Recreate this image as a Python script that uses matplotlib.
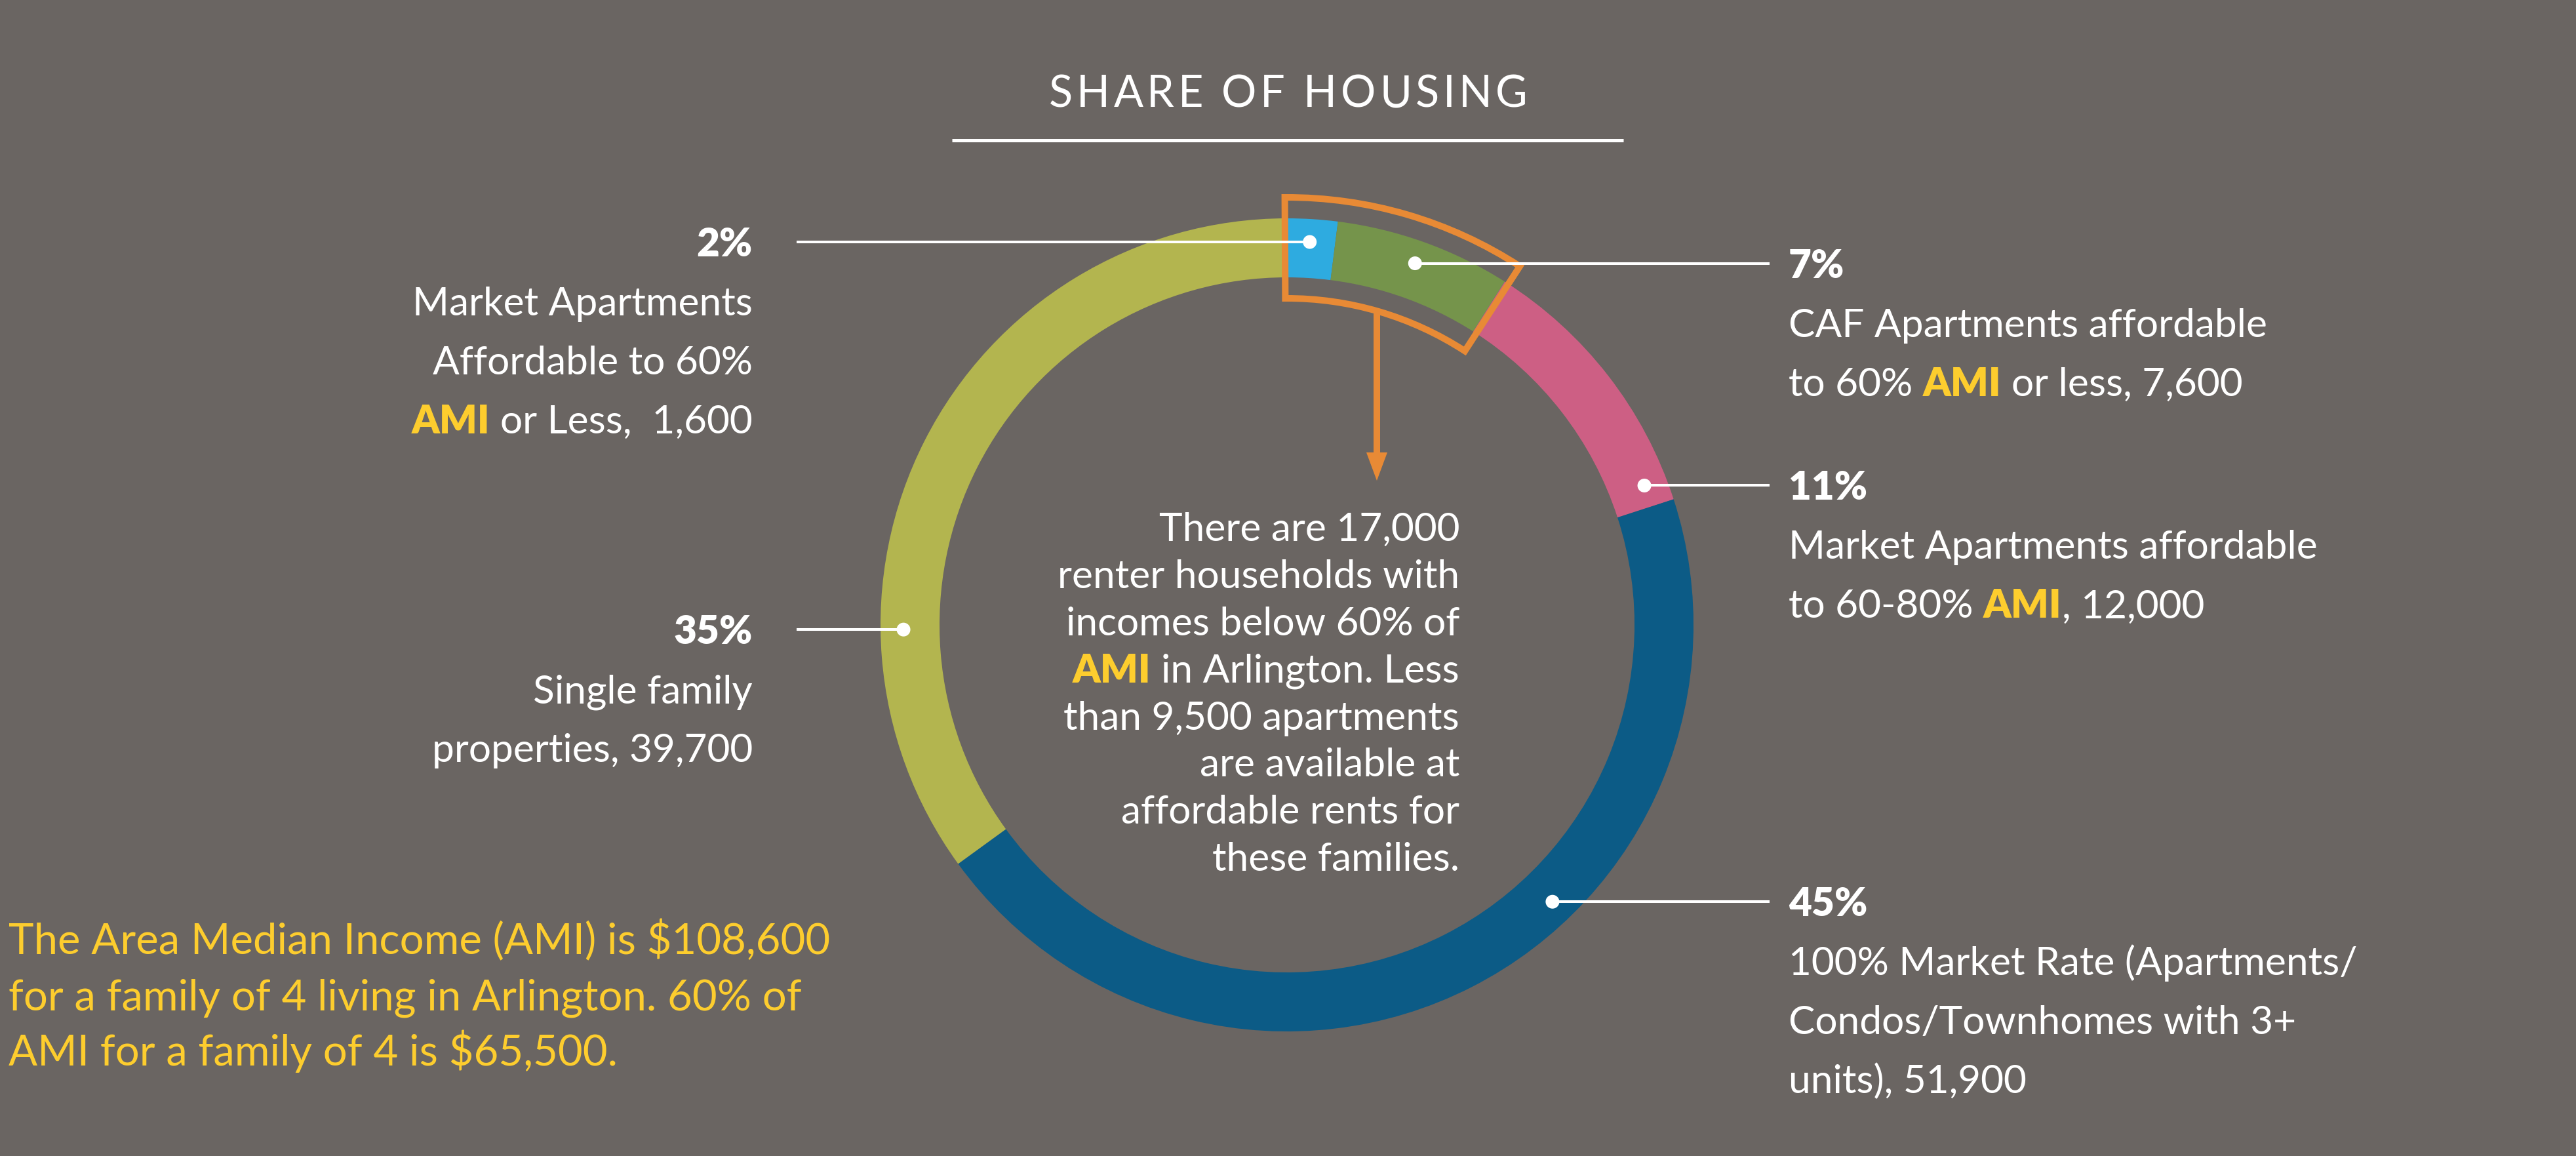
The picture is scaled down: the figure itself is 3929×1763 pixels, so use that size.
import numpy as np
import matplotlib
matplotlib.use("Agg")
import matplotlib.pyplot as plt
from matplotlib.patches import Wedge, FancyArrow, Circle

plt.rcParams["font.family"] = ["Lato", "DejaVu Sans"]

W, H = 3929, 1763
BG = "#6a6562"
WHITE = "#ffffff"
YELLOW = "#fdcd2e"
ORANGE = "#e88a35"

# Housing stock shares, clockwise from 12 o'clock
categories = [
    "Market Apartments Affordable to 60% AMI or Less",
    "CAF Apartments affordable to 60% AMI or less",
    "Market Apartments affordable to 60-80% AMI",
    "100% Market Rate (Apartments/Condos/Townhomes with 3+ units)",
    "Single family properties",
]
shares = [2, 7, 11, 45, 35]
units = [1600, 7600, 12000, 51900, 39700]
colors = ["#2eabe0", "#75944b", "#cd5f84", "#0c5b86", "#b3b54f"]

# label body lines ("**" marks the highlighted AMI term); the unit count is appended
label_text = [
    ["Market Apartments", "Affordable to 60%", "**AMI** or Less,  {}"],
    ["CAF Apartments affordable", "to 60% **AMI** or less, {}"],
    ["Market Apartments affordable", "to 60-80% **AMI**, {}"],
    ["100% Market Rate (Apartments/", "Condos/Townhomes with 3+", "units), {}"],
    ["Single family", "properties, {}"],
]
# where each leader dot sits on the ring (degrees clockwise from top)
dot_angle = [3.4, 19.5, 68.7, 136.2, 269.3]
label_side = ["left", "right", "right", "right", "left"]

center_note = [
    "There are 17,000",
    "renter households with",
    "incomes below 60% of",
    "**AMI** in Arlington. Less",
    "than 9,500 apartments",
    "are available at",
    "affordable rents for",
    "these families.",
]
ami_note = [
    "The Area Median Income (AMI) is $108,600",
    "for a family of 4 living in Arlington. 60% of",
    "AMI for a family of 4 is $65,500.",
]
title = "SHARE OF HOUSING"

fig = plt.figure(figsize=(W / 100, H / 100), dpi=100, facecolor=BG)
ax = fig.add_axes([0, 0, 1, 1])
ax.set_facecolor(BG)
R = fig.canvas.get_renderer()


def Y(y):
    return H - y


# ring
cx, cy = 1963, Y(953)
r_out, ring_w = 620, 90
ax.pie(shares, colors=colors, startangle=90, counterclock=False,
       radius=r_out, center=(cx, cy),
       wedgeprops=dict(width=ring_w, linewidth=0))
ax.set_aspect("auto")
ax.set_xlim(0, W)
ax.set_ylim(0, H)
ax.axis("off")

# highlight frame around the two affordable segments
hl_end = (shares[0] + shares[1]) / sum(shares) * 360 + 0.6
hl_r_out, hl_r_in = 652, 498
ax.add_patch(Wedge((cx, cy), hl_r_out, 90 - hl_end, 90.3, width=hl_r_out - hl_r_in,
                   fill=False, ec=ORANGE, lw=7.2, joinstyle="miter"))
ax_x = 2100
y_start = cy + np.sqrt(hl_r_in ** 2 - (ax_x - cx) ** 2)
y_tip = Y(733)
ax.add_patch(FancyArrow(ax_x, y_start, 0, y_tip - y_start, width=10,
                        head_width=32, head_length=43, length_includes_head=True,
                        color=ORANGE, lw=0))


def text_w(s, **kw):
    t = ax.text(0, 0, s, **kw)
    w = t.get_window_extent(R).width
    t.remove()
    return w


def space_w(size, weight="normal"):
    return text_w("a a", fontsize=size, fontweight=weight) - text_w("aa", fontsize=size, fontweight=weight)


def rich_line(x, y, line, size, color=WHITE, ha="left", weight="normal"):
    parts = line.split("**")
    sp = space_w(size)
    items = []
    pending = 0
    for i, p in enumerate(parts):
        if p == "":
            continue
        lead = len(p) - len(p.lstrip(" "))
        trail = len(p) - len(p.rstrip(" "))
        core = p.strip(" ")
        hl = i % 2 == 1
        st = dict(fontsize=size, fontweight="heavy" if hl else weight,
                  color=YELLOW if hl else color)
        gap = (pending + lead) * sp
        items.append((core, st, gap, text_w(core, **st)))
        pending = trail
    total = sum(g + w for _, _, g, w in items) - (items[0][2] if items else 0)
    xx = x if ha == "left" else x - total
    for k, (core, st, gap, w) in enumerate(items):
        if k > 0:
            xx += gap
        ax.text(xx, y, core, ha="left", va="baseline", **st)
        xx += w


# title with letter spacing
t_size = 48
t_target = 730
natural = text_w(title, fontsize=t_size)
n = len(title)
track = (t_target - natural) / (n - 1)
x0 = 1965 - t_target / 2
for i, ch in enumerate(title):
    if ch == " ":
        continue
    pos = text_w(title[: i + 1], fontsize=t_size) - text_w(ch, fontsize=t_size)
    ax.text(x0 + pos + i * track, Y(163), ch, fontsize=t_size, color=WHITE,
            ha="left", va="baseline")
ax.plot([1452, 2476], [Y(214), Y(214)], color=WHITE, lw=3.6, solid_capstyle="butt")

# leaders and labels
lab_size = 43.5
line_gap = 90
r_dot = 585
for k in range(len(shares)):
    phi = np.radians(dot_angle[k])
    dx = cx + r_dot * np.sin(phi)
    dy = cy + r_dot * np.cos(phi)
    if label_side[k] == "left":
        x_end, tx, ha = 1215, 1148, "right"
    else:
        x_end, tx, ha = 2699, 2728, "left"
    ax.plot([dx, x_end], [dy, dy], color=WHITE, lw=2.9, solid_capstyle="butt")
    ax.add_patch(Circle((dx, dy), 10.5, color=WHITE, lw=0))
    base = dy - 22
    ax.text(tx, base, f"{shares[k]}%", fontsize=lab_size, fontweight="heavy",
            color=WHITE, ha=ha, va="baseline")
    for j, ln in enumerate(label_text[k]):
        ln = ln.replace("{}", f"{units[k]:,}")
        rich_line(tx, base - (j + 1) * line_gap, ln, lab_size, ha=ha)

# note inside the ring
for j, ln in enumerate(center_note):
    rich_line(2226, Y(825 + 71.9 * j), ln, 43.5, ha="right")

# AMI definition
for j, ln in enumerate(ami_note):
    ax.text(13, Y(1455 + 85 * j), ln, fontsize=47, color=YELLOW,
            ha="left", va="baseline")

fig.savefig("out.png", dpi=100, facecolor=BG)
